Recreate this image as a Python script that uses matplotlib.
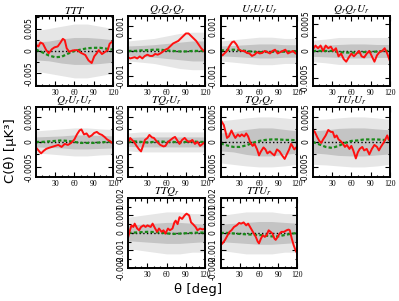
import numpy as np
import matplotlib.pyplot as plt
from matplotlib.ticker import FormatStrFormatter, MultipleLocator, AutoMinorLocator

# --------------------------
# Data
# --------------------------
titles = [r'$TTT$', r'$Q_rQ_rQ_r$', r'$U_rU_rU_r$', r'$Q_rQ_rU_r$',
          r'$Q_rU_rU_r$', r'$TQ_rU_r$', r'$TQ_rQ_r$', r'$TU_rU_r$',
          r'$TTQ_r$', r'$TTU_r$']

ylims = [0.0078, 0.0014, 0.0014, 0.00065,
         0.0007, 0.0007, 0.0007, 0.0007,
         0.002, 0.002]
yticks = [[-0.005, 0, 0.005], [-0.001, 0, 0.001], [-0.001, 0, 0.001], [-0.0005, 0, 0.0005],
          [-0.0005, 0, 0.0005], [-0.0005, 0, 0.0005], [-0.0005, 0, 0.0005], [-0.0005, 0, 0.0005],
          [-0.002, -0.001, 0, 0.001, 0.002], [-0.002, -0.001, 0, 0.001, 0.002]]

# measured (red) curves: angle and value
red_ttt_t = [0, 4, 7, 11, 16, 20, 25, 29, 34, 38, 42, 45, 48, 52, 57, 64, 70, 77, 82, 87, 91, 95, 98, 103, 108, 112, 115, 120]
red_ttt_v = [0.0014, 0.001, 0.0019, 0.0016, 0.0002, -0.0005, 0.0004, 0.0008, 0.001, 0.0018, 0.0027, 0.0024, 0.0006, -0.0002,
             0.0001, 0.0002, -0.0004, -0.0009, -0.0021, -0.0027, -0.0012, -0.0005, 0.0002, -0.0007, -0.0002, 0.0002, 0.0016, 0.0022]

red_qqq_t = [0, 3, 6, 10, 14, 18, 22, 26, 30, 34, 38, 42, 46, 50, 54, 58, 62, 66, 70, 74, 78, 82, 86, 90, 94, 98, 102, 106, 110, 114, 118, 120]
red_qqq_v = [-0.00025, -0.0003, -0.00028, -0.00025, -0.0003, -0.00022, -0.0003, -0.0002, -0.00015, -0.0002, -0.0002, -0.00012,
             -0.00015, -0.0001, -0.00003, 0.00005, 0.0001, 0.0002, 0.0003, 0.00035, 0.0004, 0.0005, 0.0006, 0.0007, 0.0007, 0.0006,
             0.0005, 0.0004, 0.00025, 0.0001, 0.0, 0.00005]

red_uuu_t = [0, 3, 6, 10, 14, 18, 21, 25, 29, 33, 37, 41, 45, 49, 53, 57, 61, 65, 69, 73, 77, 81, 85, 89, 93, 97, 101, 105, 109, 113, 117, 120]
red_uuu_v = [-0.0001, -0.00018, -0.0001, 0.0, 0.0002, 0.00035, 0.00038, 0.00025, 0.00005, 0.0, 0.0, -0.00008, -0.0001, -0.0002,
             -0.00015, -0.00005, -0.0001, -0.00008, 0.0, -0.00005, -0.0001, 0.0, 0.00005, -0.0001, -0.00005, 0.0, 0.00005,
             -0.0001, -0.00005, 0.0, -0.0001, -0.00012]

red_qqu_t = [0, 4, 8, 12, 16, 20, 24, 28, 32, 36, 40, 44, 48, 52, 56, 60, 64, 68, 72, 76, 80, 84, 88, 92, 96, 100, 104, 108, 112, 116, 120]
red_qqu_v = [0.00003, 0.0001, 0.00005, 0.0001, 0.0, 0.0001, 0.00005, 0.00008, 0.0, 0.00005, -0.0001, -0.00005, -0.00015, -0.0002,
             -0.00012, -0.00005, -0.0001, -0.00005, 0.0, -0.0001, -0.00012, -0.00005, 0.0, -0.0001, -0.0002, -0.00008, -0.00002,
             0.0, 0.00005, -0.00005, -0.00018]

red_quu_t = [0, 4, 8, 12, 16, 20, 25, 30, 35, 40, 45, 50, 55, 60, 64, 68, 71, 75, 79, 83, 87, 91, 95, 99, 103, 107, 111, 115, 120]
red_quu_v = [-0.00011, -0.00017, -0.00023, -0.00018, -0.00014, -0.00012, -0.0001, -0.00008, -0.00006, -0.0001, -0.00004, -0.00006,
             -0.00002, 0.00005, 0.00015, 0.00023, 0.00025, 0.00015, 0.00017, 0.0001, 0.00013, 0.00018, 0.0002, 0.00016, 0.00014,
             0.0001, 0.00005, 0.00002, -0.00003]

red_tqu_t = [0, 3, 6, 9, 13, 17, 20, 23, 26, 30, 33, 37, 40, 45, 50, 55, 58, 62, 66, 70, 73, 77, 80, 84, 88, 92, 96, 100, 104, 108, 112, 116, 120]
red_tqu_v = [0.0, 0.00008, 0.00004, 0.0, -0.00008, -0.00015, -0.00019, -0.00008, 0.00004, 0.00008, 0.00014, 0.00009, 0.00008, 0.0,
             -0.00006, -0.00009, -0.00008, 0.0, 0.00004, 0.00008, 0.0001, 0.00002, -0.00004, 0.00004, 0.00008, 0.00002, 0.0,
             0.00004, -0.00004, 0.0, -0.00008, -0.00004, 0.0]

red_tqq_t = [0, 2, 5, 8, 10, 13, 17, 20, 23, 27, 30, 33, 37, 40, 43, 46, 50, 53, 57, 60, 63, 67, 70, 73, 77, 80, 84, 88, 92, 96, 100, 104, 107, 110, 112, 115, 118, 120]
red_tqq_v = [0.00045, 0.0004, 0.00034, 0.00019, 0.00008, 0.00011, 0.00023, 0.00015, 0.00008, 0.00015, 0.00011, 0.00015, 0.00011,
             0.00017, 0.00011, 0.0, -0.00008, -0.00004, -0.00015, -0.00027, -0.00019, -0.00011, -0.00015, -0.00023, -0.00019,
             -0.00023, -0.00027, -0.00015, -0.00019, -0.00027, -0.00034, -0.00023, -0.00015, -0.00004, -0.00008, -0.00015,
             -0.00011, -0.00008]

red_tuu_t = [0, 3, 7, 10, 13, 16, 20, 24, 28, 31, 34, 37, 40, 43, 46, 50, 53, 57, 60, 63, 67, 70, 73, 77, 80, 84, 88, 92, 96, 100, 103, 106, 110, 113, 116, 118, 120]
red_tuu_v = [0.00024, 0.0002, 0.00009, 0.00002, -0.00002, 0.00005, 0.00013, 0.00024, 0.0002, 0.0002, 0.00009, 0.00013, 0.00005,
             0.00002, -0.00002, -0.0001, -0.00006, -0.00014, -0.00008, -0.00017, -0.00033, -0.00021, -0.00014, -0.0001, -0.00017,
             -0.00014, -0.00025, -0.00014, -0.00006, -0.0001, -0.00017, -0.0001, -0.00002, 0.00005, 0.00013, 0.00005, 0.00005]

red_ttq_t = [0, 2, 5, 8, 10, 14, 17, 20, 24, 27, 30, 35, 38, 42, 45, 48, 52, 55, 58, 62, 65, 69, 72, 74, 77, 80, 84, 88, 91, 95, 98, 101, 105, 108, 112, 116, 120]
red_ttq_v = [-0.00023, 0.00006, 0.00043, 0.00034, 0.00053, 0.00025, 0.00015, 0.00034, 0.00043, 0.00034, 0.00043, 0.00034, 0.00053,
             0.00025, 0.00006, 0.00025, 0.00006, 0.00015, -0.00004, 0.00025, 0.00015, 0.00025, 0.0006, 0.0007, 0.0005, 0.0009,
             0.0008, 0.001, 0.0011, 0.001, 0.0006, 0.0005, 0.00034, 0.00015, 0.00025, 0.0002, 0.00025]

red_ttu_t = [0, 3, 7, 11, 14, 17, 21, 25, 29, 32, 36, 40, 43, 46, 49, 52, 55, 58, 60, 63, 66, 69, 72, 75, 78, 81, 84, 86, 89, 92, 95, 99, 103, 106, 108, 111, 114, 117, 120]
red_ttu_v = [-0.0007, -0.0006, -0.0004, -0.00013, 0.00006, 0.00015, 0.00034, 0.00043, 0.00057, 0.00053, 0.0006, 0.00043, 0.00053,
             0.00034, 0.00015, -0.00004, -0.00023, -0.0005, -0.0006, -0.00032, -0.00013, -0.00023, -0.00013, 0.00015, 0.00006,
             -0.00004, -0.00032, -0.0004, -0.00023, -0.00004, 0.00006, 0.00006, 0.00015, 0.00019, 0.00015, -0.00032, -0.0007,
             -0.001, -0.0012]

red_t = [red_ttt_t, red_qqq_t, red_uuu_t, red_qqu_t, red_quu_t, red_tqu_t, red_tqq_t, red_tuu_t, red_ttq_t, red_ttu_t]
red_v = [red_ttt_v, red_qqq_v, red_uuu_v, red_qqu_v, red_quu_v, red_tqu_v, red_tqq_v, red_tuu_v, red_ttq_v, red_ttu_v]

# simulation mean (green dashed)
green_t = [0, 10, 20, 30, 40, 50, 60, 70, 80, 90, 100, 110, 120]
green_v = [
    [0.0003, -0.0003, -0.001, -0.0014, -0.0013, -0.0006, 0.0, 0.0003, 0.0006, 0.0007, 0.0007, 0.0005, 0.0003],
    [0.0, 0.0, 0.00002, 0.00003, 0.00005, 0.00005, 0.00002, 0.0, -0.00002, -0.00002, 0.0, 0.0, 0.0],
    [0.00002, 0.00004, 0.00005, 0.00003, 0.0, -0.00003, -0.00005, -0.00004, -0.00004, -0.00003, -0.00003, -0.00002, 0.0],
    [0.0, 0.0, 0.0, 0.0, -0.00002, -0.00003, -0.00003, -0.00003, -0.00002, -0.00002, -0.00001, 0.0, 0.0],
    [0.0, 0.0, 0.00001, 0.00002, 0.00003, 0.00002, 0.0, -0.00002, -0.00002, -0.00002, -0.00001, 0.0, 0.0],
    [0.0, 0.00001, 0.0, -0.00001, 0.0, 0.00001, 0.0, 0.0, -0.00001, 0.0, 0.00001, 0.0, 0.0],
    [-0.00003, -0.00007, -0.0001, -0.0001, -0.00007, -0.00002, 0.00002, 0.00004, 0.00005, 0.00005, 0.00004, 0.00004, 0.00003],
    [0.0, -0.00005, -0.0001, -0.00012, -0.00008, -0.00002, 0.00002, 0.00003, 0.00005, 0.00005, 0.00005, 0.00004, 0.00004],
    [0.0, 0.00002, 0.00004, 0.00006, 0.00005, 0.00002, -0.00003, -0.00006, -0.00004, -0.00002, 0.0, 0.00002, 0.00002],
    [0.0, 0.0, -0.00003, -0.00006, -0.00008, -0.0001, -0.00012, -0.00015, -0.0002, -0.0002, -0.00012, -0.00005, 0.0],
]

# 95% and 68% bands (half widths)
band_t = [0, 20, 40, 60, 80, 100, 120]
outer = [
    [0.0045, 0.005, 0.0055, 0.006, 0.006, 0.0055, 0.005],
    [0.0004, 0.00045, 0.0005, 0.0006, 0.0007, 0.00075, 0.00075],
    [0.0004, 0.00045, 0.0005, 0.00055, 0.00055, 0.0005, 0.0005],
    [0.0002, 0.00022, 0.00025, 0.00025, 0.00025, 0.00025, 0.00025],
    [0.00022, 0.00024, 0.00026, 0.00028, 0.00028, 0.00026, 0.00025],
    [0.00018, 0.0002, 0.0002, 0.0002, 0.0002, 0.0002, 0.0002],
    [0.00042, 0.00045, 0.00048, 0.0005, 0.0005, 0.00048, 0.00045],
    [0.00045, 0.00046, 0.00048, 0.0005, 0.0005, 0.00048, 0.00045],
    [0.0009, 0.001, 0.0011, 0.0012, 0.0012, 0.0011, 0.0011],
    [0.001, 0.0011, 0.0012, 0.0012, 0.0012, 0.0011, 0.0011],
]
inner = [
    [0.002, 0.0022, 0.0027, 0.003, 0.003, 0.0028, 0.0025],
    [0.0002, 0.00022, 0.00025, 0.0003, 0.00035, 0.0004, 0.0004],
    [0.0002, 0.00022, 0.00025, 0.00028, 0.00028, 0.00025, 0.00025],
    [0.0001, 0.00011, 0.00012, 0.00013, 0.00013, 0.00012, 0.00012],
    [0.0001, 0.00011, 0.00012, 0.00014, 0.00014, 0.00013, 0.00012],
    [0.00009, 0.0001, 0.0001, 0.0001, 0.0001, 0.0001, 0.0001],
    [0.00018, 0.0002, 0.00025, 0.00028, 0.00028, 0.00025, 0.00022],
    [0.00022, 0.00024, 0.00027, 0.00028, 0.00028, 0.00026, 0.00024],
    [0.00045, 0.0005, 0.00055, 0.0006, 0.0006, 0.00055, 0.0005],
    [0.0005, 0.00055, 0.0006, 0.00065, 0.00065, 0.0006, 0.00055],
]

# grid slot for each panel (row, col)
slots = [(0, 0), (0, 1), (0, 2), (0, 3), (1, 0), (1, 1), (1, 2), (1, 3), (2, 1), (2, 2)]

# --------------------------
# Plot
# --------------------------
plt.rcParams['mathtext.fontset'] = 'stix'
fig = plt.figure(figsize=(3.99, 3.01), dpi=100)
gs = fig.add_gridspec(3, 4, left=0.09, right=0.977, top=0.947, bottom=0.11,
                      wspace=0.2, hspace=0.3)

for i, (r, c) in enumerate(slots):
    ax = fig.add_subplot(gs[r, c])
    bt = np.array(band_t)
    o = np.array(outer[i])
    n = np.array(inner[i])
    ax.fill_between(bt, -o, o, color='#e6e6e6', lw=0)
    ax.fill_between(bt, -n, n, color='#c4c4c4', lw=0)
    ax.axhline(0, color='black', ls=':', lw=1.0)
    ax.plot(green_t, green_v[i], color='#1a8a1a', ls='--', lw=1.6, dashes=(1.5, 1))
    ax.plot(red_t[i], red_v[i], color='#ff1010', lw=1.4)

    ax.set_xlim(0, 120)
    ax.set_ylim(-ylims[i], ylims[i])
    ax.set_xticks([30, 60, 90, 120])
    ax.xaxis.set_minor_locator(MultipleLocator(10))
    ax.set_yticks(yticks[i])
    ax.yaxis.set_minor_locator(AutoMinorLocator(2))
    ax.yaxis.set_major_formatter(FormatStrFormatter('%g'))
    ax.tick_params(which='both', direction='in', top=True, right=True, width=0.8)
    ax.tick_params(which='major', length=3.5, pad=2)
    ax.tick_params(which='minor', length=1.8)
    for lab in ax.get_xticklabels():
        lab.set_fontfamily('Liberation Serif')
        lab.set_fontsize(5.5)
    for lab in ax.get_yticklabels():
        lab.set_fontsize(5.5)
        lab.set_rotation(90)
        lab.set_va('center')
    for sp in ax.spines.values():
        sp.set_linewidth(1.4)
    ax.set_title(titles[i], fontsize=8, pad=1.5)

fig.text(0.027, 0.5, r'C(θ) [μK³]', rotation=90, ha='center', va='center', fontsize=9.5)
fig.text(0.497, 0.038, 'θ [deg]', ha='center', va='center', fontsize=9.5)

plt.savefig('out.png', dpi=100)
